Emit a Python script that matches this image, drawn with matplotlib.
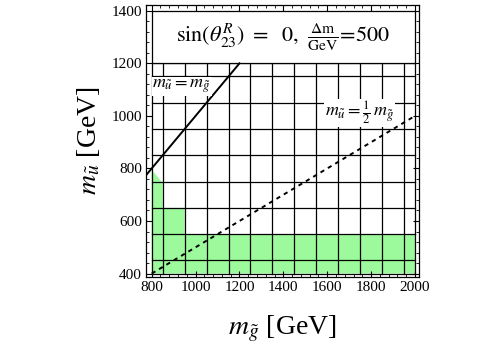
import matplotlib
matplotlib.use("Agg")
import matplotlib.pyplot as plt
from matplotlib.ticker import MultipleLocator

plt.rcParams['font.family'] = ['Liberation Serif', 'DejaVu Serif']
plt.rcParams['mathtext.fontset'] = 'stix'

# excluded region (gluino mass, squark mass) corners
excl_mg = [800, 800, 845, 850, 850, 950, 950, 2000, 2000]
excl_mu = [400, 795, 750, 750, 650, 650, 550, 550, 400]

# mesh of the scan
grid_x = [800, 850, 950, 1050, 1150, 1250, 1350, 1450, 1550, 1650, 1750, 1850, 1950, 2000]
grid_y = [400, 450, 550, 650, 750, 850, 950, 1050, 1150, 1200]

# reference lines
diag_mg = [774, 1200]
half_mg = [800, 2000]

fig = plt.figure(figsize=(5, 3.5), dpi=100)
ax = fig.add_axes([0.292, 0.2094, 0.546, 0.7763])

ax.fill(excl_mg, excl_mu, color='#9cfa9c', lw=0, zorder=1)

for gx in grid_x:
    ax.plot([gx, gx], [400, 1200], color='black', lw=0.9, zorder=2)
for gy in grid_y:
    ax.plot([800, 2000], [gy, gy], color='black', lw=0.9, zorder=2)

# label panel on top of the mesh
ax.fill([800, 2000, 2000, 800], [1200, 1200, 1400, 1400], color='white', lw=0, zorder=3)
ax.plot([800, 2000, 2000, 800, 800], [1200, 1200, 1400, 1400, 1200], color='black', lw=0.9, zorder=4)
ax.text(1400, 1300, r"$\sin(\theta^R_{23})\ =\ \ 0,\ \frac{\Delta\mathrm{m}}{\mathrm{GeV}}\!=\!500$",
        ha='center', va='center', fontsize=16, zorder=5)

ax.plot(diag_mg, diag_mg, color='black', lw=1.4, zorder=4)
ax.plot(half_mg, [m / 2 for m in half_mg], color='black', lw=1.4,
        dashes=(2.2, 2.2), zorder=4)

ax.text(803, 1113, r"$m_{\tilde{u}} = m_{\tilde{g}}$", fontsize=13, ha='left',
        va='center', zorder=5,
        bbox=dict(facecolor='white', edgecolor='none', pad=0.5))
ax.text(1590, 1012, r"$m_{\tilde{u}} = \frac{1}{2}\,m_{\tilde{g}}$", fontsize=13,
        ha='left', va='center', zorder=5,
        bbox=dict(facecolor='white', edgecolor='none', pad=0.5))

ax.set_xlim(774, 2018)
ax.set_ylim(388, 1422)
ax.xaxis.set_major_locator(MultipleLocator(200))
ax.xaxis.set_minor_locator(MultipleLocator(40))
ax.yaxis.set_major_locator(MultipleLocator(200))
ax.yaxis.set_minor_locator(MultipleLocator(40))
ax.tick_params(which='both', direction='in', top=True, right=True, labelsize=11, pad=3)
ax.tick_params(which='major', length=4, width=0.8)
ax.tick_params(which='minor', length=2, width=0.6)
for s in ax.spines.values():
    s.set_linewidth(0.9)

ax.set_xlabel(r"$m_{\tilde{g}}$ [GeV]", fontsize=20, labelpad=14)
ax.set_ylabel(r"$m_{\tilde{u}}$ [GeV]", fontsize=20, labelpad=7)

fig.savefig("out.png", dpi=100)
